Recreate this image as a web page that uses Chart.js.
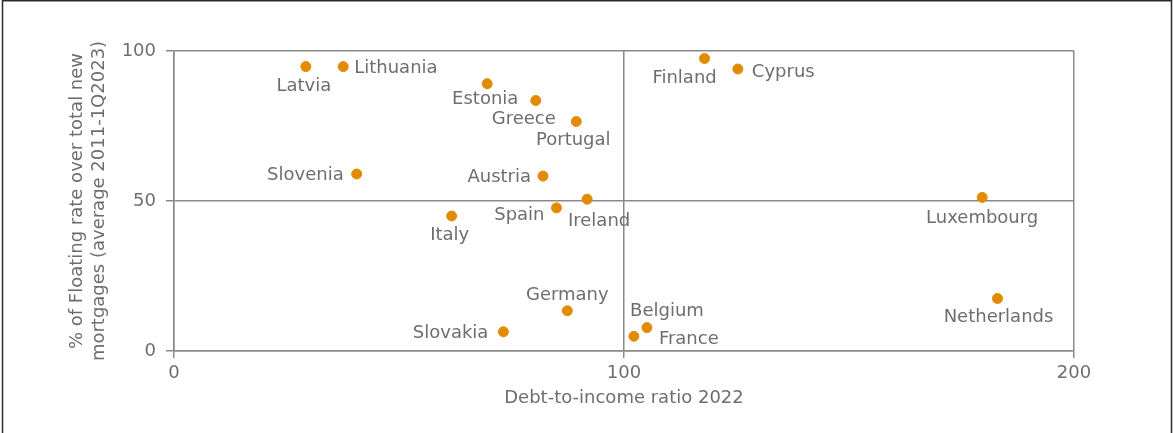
<!DOCTYPE html>
<html>
<head>
<meta charset="utf-8">
<script src="https://cdn.jsdelivr.net/npm/chart.js@4.4.1/dist/chart.umd.min.js"></script>
<style>
  html, body { margin: 0; padding: 0; background: #fff; }
  #wrap { position: relative; width: 1173px; height: 433px; }
</style>
</head>
<body>
<div id="wrap"><canvas id="chart" width="1173" height="433"></canvas></div>
<script>
// Data
const countries = ['Latvia', 'Lithuania', 'Estonia', 'Greece', 'Portugal', 'Austria', 'Ireland', 'Spain', 'Italy',
  'Slovenia', 'Finland', 'Cyprus', 'Luxembourg', 'Netherlands', 'Germany', 'Slovakia', 'Belgium', 'France'];
const debtToIncome = [29.3, 37.6, 69.6, 80.4, 89.4, 82.0, 91.8, 85.0, 61.7, 40.6, 117.9, 125.3, 179.6, 183.0, 87.4, 73.2, 105.1, 102.2];
const floatingShare = [94.8, 94.8, 89.1, 83.5, 76.5, 58.3, 50.6, 47.7, 45.0, 59.0, 97.5, 94.0, 51.2, 17.5, 13.4, 6.4, 7.8, 4.9];
const xTicks = [0, 100, 200];
const yTicks = [0, 50, 100];
const xTitle = 'Debt-to-income ratio 2022';
const yTitle = ['% of Floating rate over total new', 'mortgages (average 2011-1Q2023)'];

// where each name sits next to its dot: [dx, dy, align]
const labelPlace = {
  Latvia: [-2, 18, 'center'], Lithuania: [11, 0, 'left'], Estonia: [-2, 14, 'center'],
  Greece: [20, 17, 'right'], Portugal: [-3, 17, 'center'], Austria: [-12, 0, 'right'],
  Ireland: [12, 21, 'center'], Spain: [-12, 6, 'right'], Italy: [-2, 18, 'center'],
  Slovenia: [-13, 0, 'right'], Finland: [-20, 18, 'center'], Cyprus: [14, 2, 'left'],
  Luxembourg: [0, 19, 'center'], Netherlands: [1, 17, 'center'], Germany: [0, -17, 'center'],
  Slovakia: [-15, 0, 'right'], Belgium: [20, -18, 'center'], France: [25, 2, 'left']
};

const FONT = 'DejaVu Sans';
const TEXT = '#6e6e6e';
const LINE = '#8a8a8a';

const pointLabels = {
  id: 'pointLabels',
  afterDatasetsDraw(chart) {
    const ctx = chart.ctx;
    const meta = chart.getDatasetMeta(0);
    ctx.save();
    ctx.font = '18px "' + FONT + '"';
    ctx.fillStyle = TEXT;
    ctx.textBaseline = 'middle';
    meta.data.forEach((pt, i) => {
      const p = labelPlace[countries[i]] || [0, 16, 'center'];
      ctx.textAlign = p[2];
      // +1.5 because 'middle' sits a touch high for this font
      ctx.fillText(countries[i], pt.x + p[0], pt.y + p[1] + 1.5);
    });
    ctx.restore();
  }
};

const frame = {
  id: 'frame',
  afterDraw(chart) {
    const ctx = chart.ctx;
    ctx.save();
    ctx.strokeStyle = '#2a2a2a';
    ctx.lineWidth = 1.5;
    ctx.beginPath();
    ctx.moveTo(2.5, 433);
    ctx.lineTo(2.5, 0.75);
    ctx.lineTo(1171.5, 0.75);
    ctx.lineTo(1171.5, 433);
    ctx.stroke();
    ctx.restore();
  }
};

new Chart(document.getElementById('chart'), {
  type: 'scatter',
  data: {
    datasets: [{
      data: countries.map((c, i) => ({ x: debtToIncome[i], y: floatingShare[i] })),
      backgroundColor: '#e38b00',
      borderColor: '#e38b00',
      pointRadius: 5,
      pointHoverRadius: 5
    }]
  },
  options: {
    responsive: false,
    animation: false,
    layout: { padding: { top: 51, right: 99, bottom: 0, left: 0 } },
    plugins: { legend: { display: false }, tooltip: { enabled: false } },
    scales: {
      x: {
        type: 'linear', min: 0, max: 200,
        afterBuildTicks: s => { s.ticks = xTicks.map(v => ({ value: v })); },
        afterFit: s => { s.height = 82; },
        grid: { color: LINE, lineWidth: 1.5, tickLength: 7, tickColor: LINE },
        border: { color: LINE, width: 1.5 },
        ticks: { color: TEXT, font: { family: FONT, size: 18 }, padding: 5, maxRotation: 0 },
        title: { display: true, text: xTitle, color: TEXT, font: { family: FONT, size: 18 }, padding: { top: 0, bottom: 24 } }
      },
      y: {
        type: 'linear', min: 0, max: 100,
        afterBuildTicks: s => { s.ticks = yTicks.map(v => ({ value: v })); },
        afterFit: s => { s.width = 174; },
        grid: { color: LINE, lineWidth: 1.5, tickLength: 8, tickColor: LINE },
        border: { color: LINE, width: 1.5 },
        ticks: { color: TEXT, font: { family: FONT, size: 18 }, padding: 10 },
        title: { display: true, text: yTitle, color: TEXT, font: { family: FONT, size: 18, lineHeight: 1.2 }, padding: { top: 67, bottom: 0 } }
      }
    }
  },
  plugins: [pointLabels, frame]
});
</script>
</body>
</html>
